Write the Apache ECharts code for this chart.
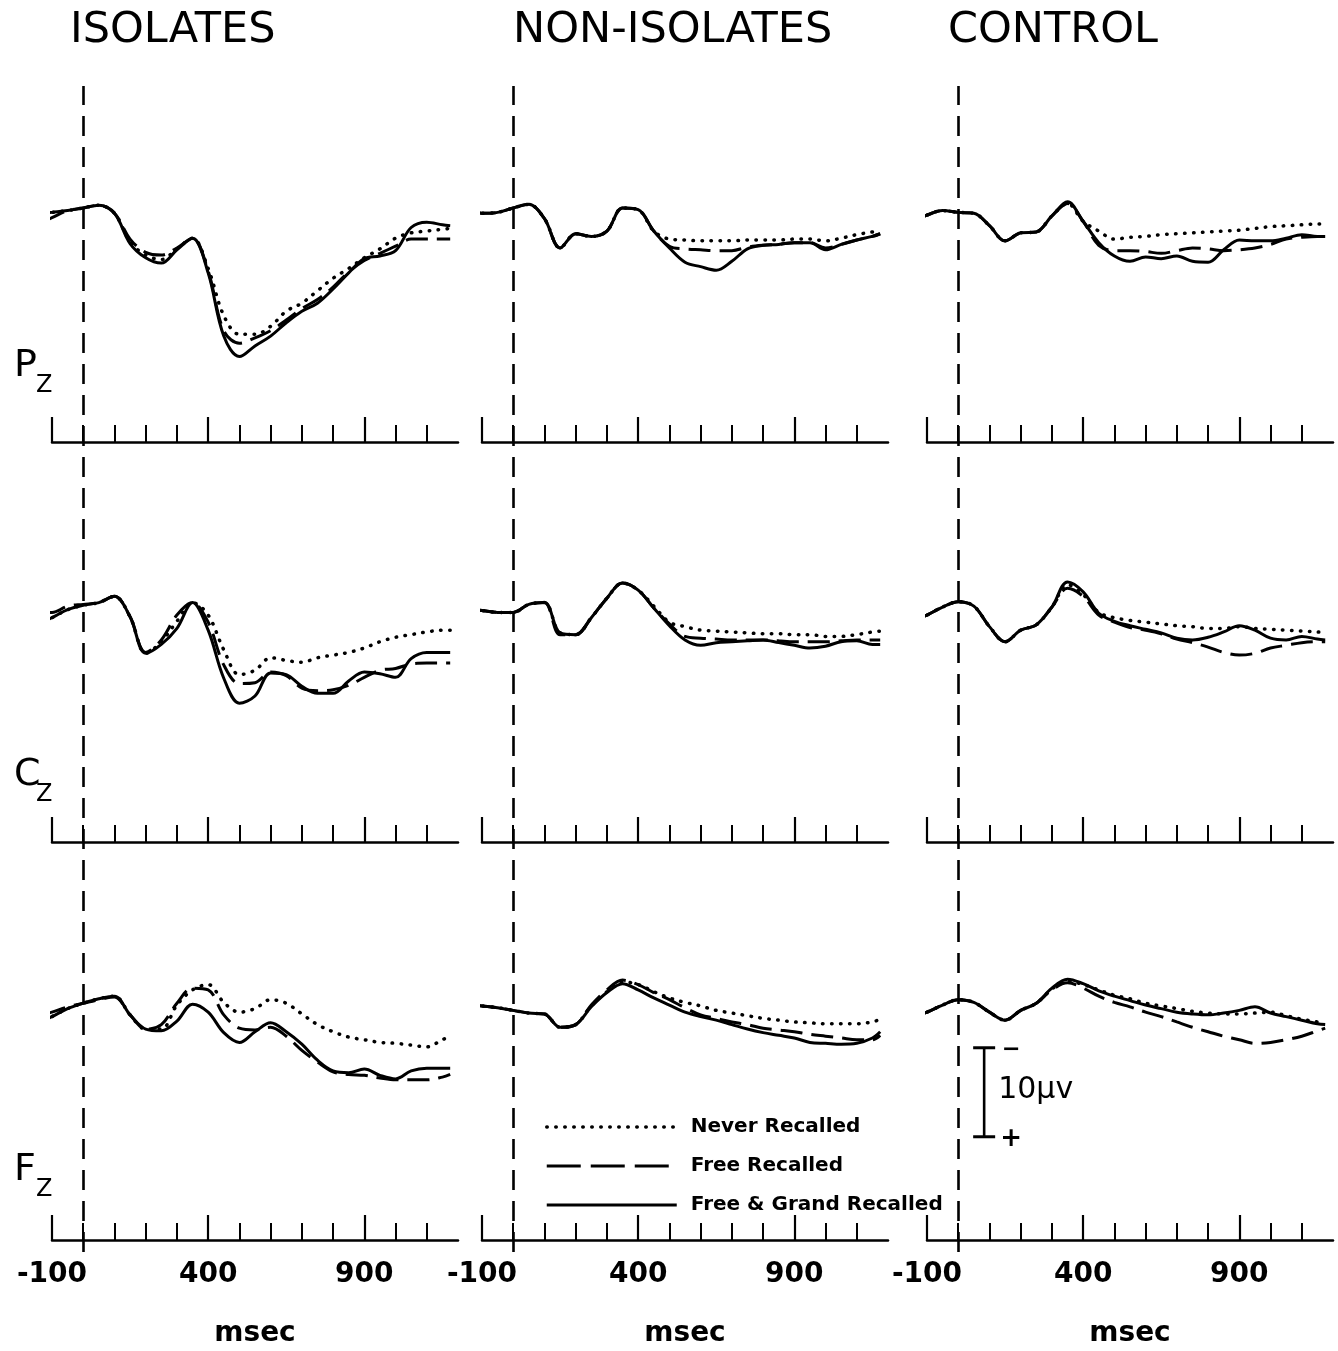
<!DOCTYPE html>
<html>
<head>
<meta charset="utf-8">
<script src="https://cdn.jsdelivr.net/npm/echarts@6/dist/echarts.min.js"></script>
<style>
  html, body { margin: 0; padding: 0; background: #fff; }
  #chart { width: 1338px; height: 1351px; }
</style>
</head>
<body>
<div id="chart"></div>
<script>
// Sample times (msec) shared by every waveform
const times = [-125, -100, -50, 0, 50, 100, 150, 200, 250, 300, 350, 400, 450, 500, 550,
               600, 650, 700, 750, 800, 850, 900, 950, 1000, 1050, 1100, 1150, 1175];

const groups = ['ISOLATES', 'NON-ISOLATES', 'CONTROL'];
const sites = ['P', 'C', 'F'];
const conditions = ['Never Recalled', 'Free Recalled', 'Free & Grand Recalled'];
const minorTicks = [-100, 0, 100, 200, 300, 400, 500, 600, 700, 800, 900, 1000, 1100];
const majorTicks = [-100, 400, 900];

// Amplitudes in microvolts (negative plotted upward)
// Pz
const isoPzNever = [0.3, 0.2, 0, -0.3, -0.6, 0.3, 3.5, 5.0, 5.5, 4.3, 3.1, 6.5, 11.8, 13.9, 13.9, 13.0, 11.3, 10.4, 9.0, 7.6, 6.5, 5.3, 4.3, 3.1, 2.5, 2.3, 2.1, 2.0];
const isoPzFree  = [1.2, 0.8, 0, -0.3, -0.6, 0.3, 3.2, 4.7, 5.0, 4.2, 3.1, 6.8, 13.5, 14.9, 14.3, 13.5, 12.3, 11.0, 10.0, 8.6, 6.9, 5.6, 4.8, 4.0, 3.2, 3.2, 3.2, 3.2];
const isoPzBoth  = [0.3, 0.2, 0, -0.3, -0.6, 0.3, 3.7, 5.3, 5.9, 4.4, 3.1, 7.0, 14.1, 16.4, 15.2, 14.1, 12.6, 11.3, 10.4, 8.8, 7.0, 5.4, 5.1, 4.5, 1.9, 1.3, 1.6, 1.7];

const niPzNever = [0, 0.3, 0.2, -0.3, -0.7, 0.9, 4.2, 2.6, 2.9, 2.3, -0.3, -0.1, 2.3, 3.2, 3.3, 3.4, 3.4, 3.4, 3.3, 3.3, 3.3, 3.2, 3.2, 3.4, 3.1, 2.7, 2.4, 2.3];
const niPzFree  = [0, 0.3, 0.2, -0.3, -0.7, 0.9, 4.2, 2.6, 2.9, 2.3, -0.3, -0.1, 2.3, 4.0, 4.3, 4.4, 4.5, 4.5, 4.1, 3.9, 3.8, 3.6, 3.6, 4.2, 3.8, 3.3, 2.9, 2.6];
const niPzBoth  = [0, 0.3, 0.2, -0.3, -0.7, 0.9, 4.2, 2.6, 2.9, 2.3, -0.3, -0.1, 2.3, 4.2, 5.8, 6.3, 6.7, 5.7, 4.3, 3.9, 3.8, 3.6, 3.6, 4.4, 3.8, 3.3, 2.9, 2.6];

const ctPzNever = [0.9, 0.5, 0, 0.2, 0.3, 1.7, 3.4, 2.5, 2.4, 0.6, -0.8, 1.2, 2.3, 3.2, 3.0, 2.9, 2.7, 2.6, 2.5, 2.4, 2.3, 2.2, 2.0, 1.8, 1.7, 1.6, 1.5, 1.5];
const ctPzFree  = [0.9, 0.5, 0, 0.2, 0.3, 1.7, 3.4, 2.5, 2.4, 0.6, -0.8, 1.2, 3.9, 4.5, 4.5, 4.6, 4.8, 4.5, 4.2, 4.3, 4.5, 4.4, 4.2, 3.8, 3.2, 3.0, 2.9, 2.9];
const ctPzBoth  = [0.9, 0.5, 0, 0.2, 0.3, 1.7, 3.4, 2.5, 2.4, 0.6, -1.0, 1.2, 3.6, 5.1, 5.7, 5.2, 5.4, 5.1, 5.7, 5.8, 4.4, 3.3, 3.4, 3.4, 3.1, 2.7, 2.9, 2.9];

// Cz
const isoCzNever = [1.2, 0.8, -0.1, -0.6, -0.9, -1.6, 0.7, 4.8, 3.5, 1.2, -0.9, 0.5, 4.4, 7.2, 6.7, 5.3, 5.6, 5.8, 5.3, 5.0, 4.7, 4.2, 3.5, 3.0, 2.7, 2.4, 2.2, 2.2];
const isoCzFree  = [0.2, 0.2, -0.5, -0.7, -0.9, -1.6, 0.7, 4.7, 3.3, 0.5, -0.9, 1.3, 6.1, 8.2, 8.1, 6.9, 7.3, 8.7, 9.0, 8.9, 8.4, 7.5, 6.7, 6.5, 6.0, 5.9, 5.9, 5.9];
const isoCzBoth  = [1.2, 0.8, -0.1, -0.6, -0.9, -1.6, 0.7, 4.8, 3.8, 2.0, -0.9, 2.2, 7.6, 10.4, 9.6, 7.0, 7.2, 8.5, 9.3, 9.3, 7.9, 6.9, 7.1, 7.5, 5.4, 4.7, 4.7, 4.7];

const niCzNever = [-0.1, 0, 0.2, 0.2, -0.7, -0.9, 2.5, 2.7, 0.8, -1.4, -3.1, -2.3, -0.5, 1.3, 1.8, 2.2, 2.3, 2.4, 2.5, 2.6, 2.6, 2.7, 2.7, 2.9, 2.9, 2.7, 2.4, 2.3];
const niCzFree  = [-0.1, 0, 0.2, 0.2, -0.7, -0.9, 2.7, 2.7, 0.8, -1.4, -3.1, -2.3, -0.3, 1.5, 2.9, 3.1, 3.2, 3.3, 3.3, 3.3, 3.4, 3.5, 3.5, 3.5, 3.4, 3.3, 3.3, 3.3];
const niCzBoth  = [-0.1, 0, 0.2, 0.2, -0.7, -0.9, 2.5, 2.7, 0.8, -1.4, -3.1, -2.3, -0.3, 1.7, 3.3, 3.9, 3.6, 3.5, 3.4, 3.3, 3.6, 3.9, 4.2, 4.0, 3.5, 3.4, 3.8, 3.8];

const ctCzNever = [0.8, 0.5, -0.4, -1.0, -0.5, 1.8, 3.5, 2.2, 1.6, -0.4, -2.9, -1.8, 0.2, 0.8, 1.1, 1.3, 1.5, 1.7, 1.8, 2.0, 2.0, 1.8, 2.0, 2.1, 2.2, 2.3, 2.4, 2.5];
const ctCzFree  = [0.8, 0.5, -0.4, -1.0, -0.5, 1.8, 3.5, 2.2, 1.6, -0.4, -2.5, -1.6, 0.5, 1.3, 1.9, 2.2, 2.6, 3.2, 3.6, 4.1, 4.7, 5.0, 4.8, 4.2, 3.9, 3.6, 3.5, 3.5];
const ctCzBoth  = [0.8, 0.5, -0.4, -1.0, -0.5, 1.8, 3.5, 2.2, 1.6, -0.4, -3.2, -2.1, 0.3, 1.2, 1.7, 2.1, 2.5, 3.1, 3.3, 3.0, 2.4, 1.7, 2.2, 3.1, 3.3, 2.9, 3.2, 3.3];

// Fz
const isoFzNever = [1.3, 0.9, 0, -0.6, -1.1, -1.4, 0.7, 2.3, 2.3, -0.4, -2.1, -2.7, -0.7, 0.4, 0, -1.0, -0.6, 0.6, 1.8, 2.6, 3.2, 3.5, 3.8, 3.9, 4.1, 4.3, 3.5, 3.1];
const isoFzFree  = [0.6, 0.4, -0.2, -0.6, -1.0, -1.3, 0.7, 2.3, 1.8, -0.6, -2.3, -2.1, 0.7, 2.2, 2.4, 2.1, 3.1, 4.7, 6.0, 7.1, 7.4, 7.5, 7.8, 8.0, 8.0, 8.0, 7.7, 7.4];
const isoFzBoth  = [1.3, 0.9, 0, -0.6, -1.1, -1.4, 0.7, 2.3, 2.5, 1.4, -0.5, 0.4, 2.7, 3.8, 2.6, 1.6, 2.6, 4.0, 5.8, 7.0, 7.2, 6.8, 7.5, 7.9, 7.0, 6.7, 6.7, 6.7];

const niFzNever = [-0.4, -0.3, -0.1, 0.2, 0.5, 0.6, 2.1, 1.8, -0.3, -1.9, -3.0, -2.7, -1.9, -1.2, -0.7, -0.3, 0.2, 0.5, 0.8, 1.1, 1.3, 1.5, 1.6, 1.7, 1.7, 1.7, 1.5, 1.2];
const niFzFree  = [-0.4, -0.3, -0.1, 0.2, 0.5, 0.6, 2.1, 1.8, -0.4, -2.1, -3.2, -2.7, -1.8, -1.0, -0.1, 0.7, 1.1, 1.5, 1.8, 2.2, 2.4, 2.6, 2.9, 3.1, 3.3, 3.5, 3.5, 3.0];
const niFzBoth  = [-0.4, -0.3, -0.1, 0.2, 0.5, 0.6, 2.1, 1.8, -0.2, -1.8, -2.8, -2.1, -1.2, -0.4, 0.4, 0.9, 1.3, 1.8, 2.3, 2.7, 3.0, 3.3, 3.8, 3.9, 4.0, 3.9, 3.3, 2.6];

const ctFzNever = [0.7, 0.4, -0.4, -1.0, -0.7, 0.4, 1.3, 0.2, -0.6, -2.2, -3.1, -2.7, -2.1, -1.5, -1.1, -0.6, -0.3, 0, 0.3, 0.5, 0.6, 0.6, 0.5, 0.4, 0.8, 1.2, 1.5, 1.7];
const ctFzFree  = [0.7, 0.4, -0.4, -1.0, -0.7, 0.4, 1.3, 0.2, -0.6, -2.1, -2.9, -2.3, -1.4, -0.7, -0.2, 0.4, 0.9, 1.5, 2.1, 2.6, 3.1, 3.5, 3.9, 3.8, 3.5, 3.1, 2.5, 2.2];
const ctFzBoth  = [0.7, 0.4, -0.4, -1.0, -0.7, 0.4, 1.3, 0.2, -0.6, -2.3, -3.3, -2.8, -2.0, -1.4, -0.9, -0.4, 0, 0.4, 0.6, 0.7, 0.5, 0.2, -0.2, 0.5, 0.9, 1.3, 1.7, 1.8];

// Calibration bar: 10 microvolts, drawn in the Fz / CONTROL panel
const scaleBarTime = 83;
const scaleBarFrom = 4.4;
const scaleBarSpan = 10;
const scaleBarText = '10\u00b5v';

// rows: Pz, Cz, Fz; columns: isolates, non-isolates, control; each [never, free, free & grand]
const panels = [
  [[isoPzNever, isoPzFree, isoPzBoth], [niPzNever, niPzFree, niPzBoth], [ctPzNever, ctPzFree, ctPzBoth]],
  [[isoCzNever, isoCzFree, isoCzBoth], [niCzNever, niCzFree, niCzBoth], [ctCzNever, ctCzFree, ctCzBoth]],
  [[isoFzNever, isoFzFree, isoFzBoth], [niFzNever, niFzFree, niFzBoth], [ctFzNever, ctFzFree, ctFzBoth]]
];

// ---- layout & styling ----
const FONT = 'DejaVu Sans';
const INK = '#000';
const colLeft = [52, 482, 927];
const colWidth = 406;
const rowTop = [86, 486, 884];
const rowHeight = 356;
const X_MIN = -100, X_MAX = 1200;
const Y_MIN = -14, Y_MAX = 26;

const lineStyles = [
  { color: INK, width: 3.5, type: [0.5, 8.5], cap: 'round' },
  { color: INK, width: 3, type: [22, 9] },
  { color: INK, width: 3, type: 'solid' }
];

const grids = [], xAxes = [], yAxes = [], series = [];

for (let r = 0; r < 3; r++) {
  for (let c = 0; c < 3; c++) {
    const p = r * 3 + c;
    grids.push({ left: colLeft[c], top: rowTop[r], width: colWidth, height: rowHeight,
                 containLabel: false, outerBoundsMode: 'none' });
    xAxes.push({
      gridIndex: p, type: 'value', min: X_MIN, max: X_MAX, position: 'bottom',
      axisLine: { show: true, onZero: false, lineStyle: { color: INK, width: 2.5 } },
      axisTick: { show: true, inside: true, length: 17, customValues: minorTicks,
                  lineStyle: { color: INK, width: 2 } },
      axisLabel: { show: false },
      splitLine: { show: false }
    });
    xAxes.push({
      gridIndex: p, type: 'value', min: X_MIN, max: X_MAX, position: 'bottom',
      axisLine: { show: false, onZero: false },
      axisTick: { show: true, inside: true, length: 25, customValues: majorTicks,
                  lineStyle: { color: INK, width: 2.2 } },
      axisLabel: { show: r === 2, customValues: majorTicks, margin: 21, color: INK,
                   fontFamily: FONT, fontSize: 28, fontWeight: 'bold' },
      name: r === 2 ? 'msec' : '', nameLocation: 'middle', nameGap: 80,
      nameTextStyle: { color: INK, fontFamily: FONT, fontSize: 28, fontWeight: 'bold' },
      splitLine: { show: false }
    });
    yAxes.push({ gridIndex: p, type: 'value', min: Y_MIN, max: Y_MAX, inverse: true, show: false });

    for (let k = 0; k < 3; k++) {
      const vals = panels[r][c][k];
      series.push({
        name: conditions[k], type: 'line', xAxisIndex: 2 * p, yAxisIndex: p,
        data: times.map((t, i) => [t, vals[i]]),
        showSymbol: false, symbol: 'none', smooth: 0.35, clip: false,
        lineStyle: lineStyles[k], emphasis: { disabled: true }, silent: true, z: 3 + k
      });
    }
  }
}

// Stimulus-onset markers spanning all three rows of each column
for (let c = 0; c < 3; c++) {
  const g = 9 + c;
  grids.push({ left: colLeft[c], top: 86, width: colWidth, height: 1252 - 86,
               containLabel: false, outerBoundsMode: 'none' });
  xAxes.push({ gridIndex: g, type: 'value', min: X_MIN, max: X_MAX, show: false });
  yAxes.push({ gridIndex: g, type: 'value', min: 0, max: 1, show: false });
  series.push({
    name: 'onset', type: 'line', xAxisIndex: 18 + c, yAxisIndex: g,
    data: [[0, 0.5]], showSymbol: false, symbol: 'none', lineStyle: { width: 0 }, silent: true,
    markLine: {
      silent: true, symbol: ['none', 'none'], label: { show: false },
      lineStyle: { color: INK, width: 2.6, type: [20, 11] },
      emphasis: { disabled: true },
      data: [{ xAxis: 0 }]
    }
  });
}

// 10 microvolt calibration bar
series.push({
  name: 'calibration', type: 'custom', xAxisIndex: 16, yAxisIndex: 8, silent: true, clip: false,
  data: [[scaleBarTime, scaleBarFrom, scaleBarFrom + scaleBarSpan]],
  renderItem(params, api) {
    const a = api.coord([api.value(0), api.value(1)]);
    const b = api.coord([api.value(0), api.value(2)]);
    const stroke = { stroke: INK, lineWidth: 2.6 };
    return {
      type: 'group',
      children: [
        { type: 'line', shape: { x1: a[0], y1: a[1], x2: b[0], y2: b[1] }, style: stroke },
        { type: 'line', shape: { x1: a[0] - 11, y1: a[1], x2: a[0] + 11, y2: a[1] }, style: { stroke: INK, lineWidth: 3 } },
        { type: 'line', shape: { x1: b[0] - 11, y1: b[1], x2: b[0] + 11, y2: b[1] }, style: { stroke: INK, lineWidth: 3 } },
        { type: 'line', shape: { x1: a[0] + 20, y1: a[1] + 1, x2: a[0] + 34, y2: a[1] + 1 }, style: { stroke: INK, lineWidth: 2.6 } },
        { type: 'text', x: b[0] + 27, y: b[1] + 2,
          style: { text: '+', font: 'bold 26px "' + FONT + '"', fill: INK, align: 'center', verticalAlign: 'middle' } },
        { type: 'text', x: a[0] + 14, y: (a[1] + b[1]) / 2 - 2,
          style: { text: scaleBarText, font: '30px "' + FONT + '"', fill: INK, align: 'left', verticalAlign: 'middle' } }
      ]
    };
  }
});

// Column titles and electrode-site labels
const titleX = [70, 513, 948];
const siteY = [366, 775, 1170];
const graphic = [];
groups.forEach((g, c) => {
  graphic.push({ type: 'text', x: titleX[c], y: 31, silent: true,
    style: { text: g, font: '43px "' + FONT + '"', fill: INK, align: 'left', verticalAlign: 'middle' } });
});
sites.forEach((s, r) => {
  graphic.push({ type: 'text', x: 14, y: siteY[r], silent: true,
    style: { text: s, font: '38px "' + FONT + '"', fill: INK, align: 'left', verticalAlign: 'middle' } });
  graphic.push({ type: 'text', x: 36, y: siteY[r] + 20, silent: true,
    style: { text: 'Z', font: '24px "' + FONT + '"', fill: INK, align: 'left', verticalAlign: 'middle' } });
});

const chart = echarts.init(document.getElementById('chart'), null, { renderer: 'canvas' });
chart.setOption({
  backgroundColor: '#fff',
  animation: false,
  grid: grids,
  xAxis: xAxes,
  yAxis: yAxes,
  legend: {
    orient: 'vertical', left: 540, top: 1112, itemWidth: 130, itemHeight: 20, itemGap: 19,
    selectedMode: false,
    itemStyle: { opacity: 0 },
    textStyle: { fontFamily: FONT, fontSize: 20, fontWeight: 'bold', color: INK, padding: [0, 0, 0, 9] },
    data: [
      { name: conditions[0], lineStyle: { color: INK, width: 3.5, type: [0.5, 8.5], cap: 'round' } },
      { name: conditions[1], lineStyle: { color: INK, width: 3, type: [34, 10] } },
      { name: conditions[2], lineStyle: { color: INK, width: 3, type: 'solid' } }
    ]
  },
  graphic: graphic,
  series: series
});
</script>
</body>
</html>
